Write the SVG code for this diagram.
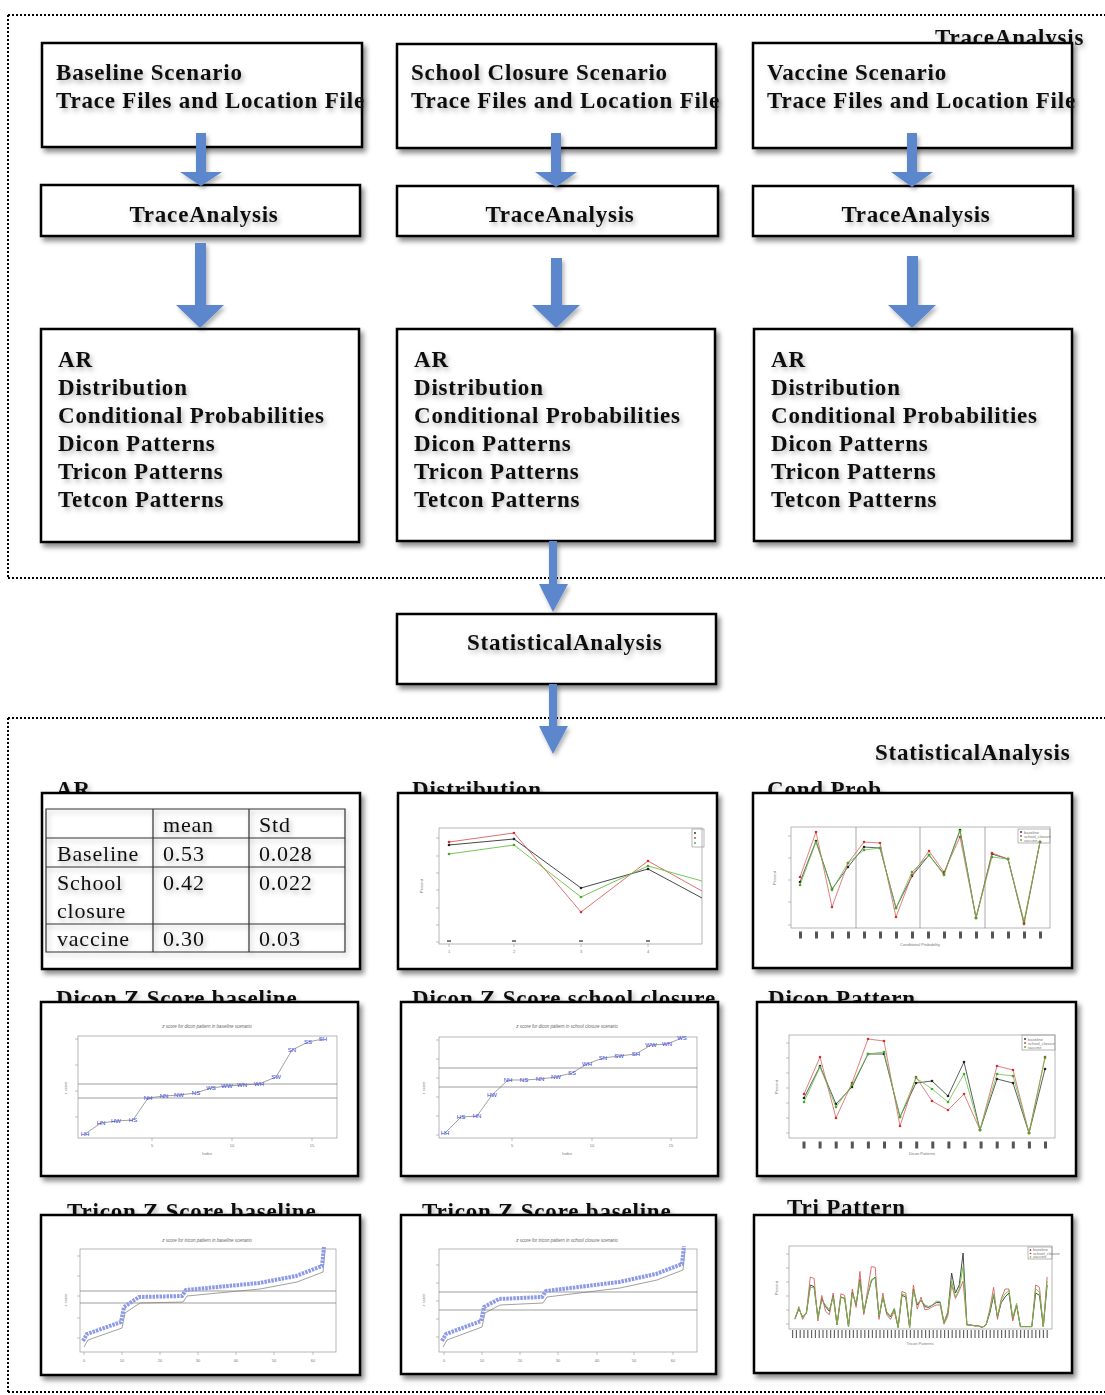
<svg xmlns="http://www.w3.org/2000/svg" width="1105" height="1395" viewBox="0 0 1105 1395">
<defs>
<filter id="sh" x="-10%" y="-10%" width="130%" height="140%"><feDropShadow dx="3" dy="4" stdDeviation="2.5" flood-color="#000" flood-opacity="0.45"/></filter>
<filter id="tsh" x="-10%" y="-30%" width="130%" height="180%"><feDropShadow dx="2" dy="3" stdDeviation="2.5" flood-color="#000" flood-opacity="0.3"/></filter>
<filter id="ash" x="-50%" y="-20%" width="200%" height="150%"><feDropShadow dx="2" dy="3" stdDeviation="2" flood-color="#000" flood-opacity="0.3"/></filter>
<marker id="mk" markerUnits="userSpaceOnUse" markerWidth="4" markerHeight="4" refX="2" refY="2"><circle cx="2" cy="2" r="1.3" fill="#222"/></marker>
<marker id="mr" markerUnits="userSpaceOnUse" markerWidth="4" markerHeight="4" refX="2" refY="2"><circle cx="2" cy="2" r="1.3" fill="#d03030"/></marker>
<marker id="mg" markerUnits="userSpaceOnUse" markerWidth="4" markerHeight="4" refX="2" refY="2"><circle cx="2" cy="2" r="1.3" fill="#44aa22"/></marker>
<style>
.box{fill:#fff;stroke:#000;stroke-width:2.5;filter:url(#sh)}
.t{font-family:"Liberation Serif",serif;font-weight:bold;font-size:23px;letter-spacing:0.8px;fill:#111;filter:url(#tsh)}
.tr{font-family:"Liberation Serif",serif;font-size:22px;letter-spacing:0.8px;fill:#111}
.dot{fill:none;stroke:#000;stroke-width:2;stroke-dasharray:2 2}
.arrow{fill:#5b87cd;filter:url(#ash)}
.frame{fill:none;stroke:#999;stroke-width:0.7}
.grid{stroke:#888;stroke-width:0.7}
.tick{stroke:#999;stroke-width:0.6}
.ax{font-family:"Liberation Sans",sans-serif;font-size:4px;fill:#777}
.ttl{font-family:"Liberation Sans",sans-serif;font-size:4.5px;font-style:italic;fill:#666}
.zl{font-family:"Liberation Sans",sans-serif;font-size:6px;fill:#3344dd;text-anchor:middle}
.lk{fill:none;stroke:#333;stroke-width:0.8;marker-start:url(#mk);marker-mid:url(#mk);marker-end:url(#mk)}
.lr{fill:none;stroke:#d86060;stroke-width:0.8;marker-start:url(#mr);marker-mid:url(#mr);marker-end:url(#mr)}
.lg{fill:none;stroke:#66c044;stroke-width:0.8;marker-start:url(#mg);marker-mid:url(#mg);marker-end:url(#mg)}
.pk{fill:none;stroke:#333;stroke-width:0.9;vector-effect:non-scaling-stroke}
.pr{fill:none;stroke:#d86060;stroke-width:0.9;vector-effect:non-scaling-stroke}
.pg{fill:none;stroke:#66c044;stroke-width:0.9;vector-effect:non-scaling-stroke}
.zline{fill:none;stroke:#777;stroke-width:0.7}
.zband{fill:none;stroke:#8c9ae8;stroke-width:4;stroke-dasharray:2.5 1}
.xl{fill:none;stroke:#555;stroke-width:7}
.tbl{stroke:#333;stroke-width:1.2;fill:none}
</style>
</defs>

<!-- section borders -->
<g id="section-trace">
<path class="dot" d="M8,15 H1105 M8,15 V578 M8,578 H1105"/>
<text class="t" x="935" y="45">TraceAnalysis</text>
</g>
<g id="section-stat">
<path class="dot" d="M8,718 H1105 M8,718 V1392 M8,1392 H1105"/>
<text class="t" x="875" y="760">StatisticalAnalysis</text>
</g>

<!-- top row -->
<g id="baseline-input">
<rect class="box" x="42" y="43" width="320" height="104"/>
<text class="t" x="56" y="80">Baseline Scenario</text>
<text class="t" x="56" y="108">Trace Files and Location File</text>
</g>
<g id="school-input">
<rect class="box" x="397" y="44" width="319" height="104"/>
<text class="t" x="411" y="80">School Closure Scenario</text>
<text class="t" x="411" y="108">Trace Files and Location File</text>
</g>
<g id="vaccine-input">
<rect class="box" x="753" y="43" width="319" height="105"/>
<text class="t" x="767" y="80">Vaccine Scenario</text>
<text class="t" x="767" y="108">Trace Files and Location File</text>
</g>

<g id="trace-1">
<rect class="box" x="41" y="185" width="319" height="51"/>
<text class="t" x="204" y="222" text-anchor="middle">TraceAnalysis</text>
</g>
<g id="trace-2">
<rect class="box" x="397" y="186" width="321" height="50"/>
<text class="t" x="560" y="222" text-anchor="middle">TraceAnalysis</text>
</g>
<g id="trace-3">
<rect class="box" x="753" y="186" width="320" height="50"/>
<text class="t" x="916" y="222" text-anchor="middle">TraceAnalysis</text>
</g>

<g id="results-1">
<rect class="box" x="41" y="329" width="318" height="213"/>
<text class="t" x="58" y="367">AR</text>
<text class="t" x="58" y="395">Distribution</text>
<text class="t" x="58" y="423">Conditional Probabilities</text>
<text class="t" x="58" y="451">Dicon Patterns</text>
<text class="t" x="58" y="479">Tricon Patterns</text>
<text class="t" x="58" y="507">Tetcon Patterns</text>
</g>
<g id="results-2">
<rect class="box" x="397" y="329" width="318" height="212"/>
<text class="t" x="414" y="367">AR</text>
<text class="t" x="414" y="395">Distribution</text>
<text class="t" x="414" y="423">Conditional Probabilities</text>
<text class="t" x="414" y="451">Dicon Patterns</text>
<text class="t" x="414" y="479">Tricon Patterns</text>
<text class="t" x="414" y="507">Tetcon Patterns</text>
</g>
<g id="results-3">
<rect class="box" x="754" y="329" width="318" height="212"/>
<text class="t" x="771" y="367">AR</text>
<text class="t" x="771" y="395">Distribution</text>
<text class="t" x="771" y="423">Conditional Probabilities</text>
<text class="t" x="771" y="451">Dicon Patterns</text>
<text class="t" x="771" y="479">Tricon Patterns</text>
<text class="t" x="771" y="507">Tetcon Patterns</text>
</g>

<g id="statistical-analysis">
<rect class="box" x="397" y="614" width="319" height="70"/>
<text class="t" x="467" y="650">StatisticalAnalysis</text>
</g>

<!-- AR table -->
<g id="ar-table">
<text class="t" x="56" y="797">AR</text>
<rect class="box" x="42" y="793" width="318" height="176"/>
<g filter="url(#tsh)">
<path class="tbl" d="M46,809 H345 V952 H46 Z M153,809 V952 M249,809 V952 M46,838 H345 M46,867 H345 M46,924 H345"/>
<text class="tr" x="163" y="832">mean</text>
<text class="tr" x="259" y="832">Std</text>
<text class="tr" x="57" y="861">Baseline</text>
<text class="tr" x="163" y="861">0.53</text>
<text class="tr" x="259" y="861">0.028</text>
<text class="tr" x="57" y="890">School</text>
<text class="tr" x="57" y="918">closure</text>
<text class="tr" x="163" y="890">0.42</text>
<text class="tr" x="259" y="890">0.022</text>
<text class="tr" x="57" y="946">vaccine</text>
<text class="tr" x="163" y="946">0.30</text>
<text class="tr" x="259" y="946">0.03</text>
</g>
</g>

<!-- Distribution -->
<g id="distribution">
<text class="t" x="412" y="797">Distribution</text>
<rect class="box" x="398" y="793" width="319" height="176"/>
<rect class="frame" x="439" y="828" width="263" height="116"/>
<path class="tick" d="M436,838 H439 M436,856 H439 M436,873 H439 M436,890 H439 M436,908 H439 M436,925 H439 M436,942 H439 M449,944 V947 M514,944 V947 M581,944 V947 M648,944 V947"/>
<text class="ax" x="449" y="953" text-anchor="middle">1</text>
<text class="ax" x="514" y="953" text-anchor="middle">2</text>
<text class="ax" x="581" y="953" text-anchor="middle">3</text>
<text class="ax" x="648" y="953" text-anchor="middle">4</text>
<text class="ax" x="423" y="886" transform="rotate(-90 423 886)" text-anchor="middle">Percent</text>
<polyline class="pk" points="449,845 514,839 581,888 648,869 702,898"/>
<polyline class="pr" points="449,842 514,833 581,912 648,861 702,891"/>
<polyline class="pg" points="449,854 514,845 581,897 648,866 702,881"/>
<g fill="#222"><circle cx="449" cy="845" r="1.3"/><circle cx="514" cy="839" r="1.3"/><circle cx="581" cy="888" r="1.3"/><circle cx="648" cy="869" r="1.3"/></g>
<g fill="#d03030"><circle cx="449" cy="842" r="1.3"/><circle cx="514" cy="833" r="1.3"/><circle cx="581" cy="912" r="1.3"/><circle cx="648" cy="861" r="1.3"/></g>
<g fill="#44aa22"><circle cx="449" cy="854" r="1.3"/><circle cx="514" cy="845" r="1.3"/><circle cx="581" cy="897" r="1.3"/><circle cx="648" cy="866" r="1.3"/></g>
<rect class="frame" x="692" y="829" width="12" height="18" fill="#fff"/>
<circle cx="695" cy="833" r="0.9" fill="#222"/><circle cx="695" cy="838" r="0.9" fill="#d03030"/><circle cx="695" cy="843" r="0.9" fill="#44aa22"/>
<path d="M447,941 h4 M512,941 h4 M579,941 h4 M646,941 h4" stroke="#555" stroke-width="1.5"/>
</g>

<!-- Cond Prob -->
<g id="cond-prob">
<text class="t" x="767" y="797">Cond Prob</text>
<rect class="box" x="753" y="793" width="319" height="175"/>
<rect class="frame" x="791" y="827" width="259" height="101"/>
<path class="grid" d="M856,827 V928 M920,827 V928 M985,827 V928"/>
<path class="tick" d="M788,836 H791 M788,858 H791 M788,880 H791 M788,902 H791 M788,925 H791"/>
<polyline class="lk" points="800,882 816,841 832,889 848,867 864,847 880,848 896,908 912,876 929,855 944,874 960,830 976,918 992,854 1008,859 1024,923 1040,842"/>
<polyline class="lr" points="800,877 816,832 832,907 848,863 864,842 880,843 896,917 912,875 929,851 944,872 960,837 976,918 992,853 1008,859 1024,924 1040,842"/>
<polyline class="lg" points="800,885 816,842 832,890 848,863 864,850 880,848 896,908 912,872 929,855 944,875 960,831 976,918 992,857 1008,859 1024,921 1040,842"/>
<line class="xl" x1="799" y1="935" x2="1044" y2="935" stroke-dasharray="3 13"/>
<text class="ax" x="920" y="946" text-anchor="middle" font-size="3.5">Conditional Probability</text>
<text class="ax" x="776" y="878" transform="rotate(-90 776 878)" text-anchor="middle">Percent</text>
<rect class="frame" x="1018" y="829" width="32" height="14" fill="#fff"/>
<circle cx="1021" cy="832" r="0.9" fill="#222"/><circle cx="1021" cy="836" r="0.9" fill="#d03030"/><circle cx="1021" cy="840" r="0.9" fill="#44aa22"/>
<text class="ax" x="1024" y="833.5" font-size="3">baseline</text>
<text class="ax" x="1024" y="837.5" font-size="3">school_closure</text>
<text class="ax" x="1024" y="841.5" font-size="3">vaccine</text>
</g>

<!-- Dicon Z Score baseline -->
<g id="dicon-z-baseline">
<text class="t" x="56" y="1006">Dicon Z Score baseline</text>
<rect class="box" x="41" y="1002" width="317" height="174"/>
<text class="ttl" x="207" y="1028" text-anchor="middle">z score for dicon pattern in baseline scenario</text>
<rect class="frame" x="78" y="1036" width="259" height="102"/>
<path class="zline" d="M78,1084 H337 M78,1098 H337"/>
<path class="tick" d="M75,1039 H78 M75,1065 H78 M75,1091 H78 M75,1117 H78 M152,1138 V1141 M232,1138 V1141 M312,1138 V1141"/>
<text class="ax" x="152" y="1147" text-anchor="middle">5</text>
<text class="ax" x="232" y="1147" text-anchor="middle">10</text>
<text class="ax" x="312" y="1147" text-anchor="middle">15</text>
<text class="ax" x="207" y="1155" text-anchor="middle">Index</text>
<text class="ax" x="67" y="1088" transform="rotate(-90 67 1088)" text-anchor="middle">z score</text>
<polyline class="zline" points="85,1134 101,1123 116,1121 133,1120 148,1098 164,1096 179,1095 196,1093 211,1088 227,1086 242,1085 259,1084 276,1077 292,1050 308,1042 323,1039"/>
<text class="zl" x="85" y="1136">HH</text><text class="zl" x="101" y="1125">HN</text><text class="zl" x="116" y="1123">HW</text><text class="zl" x="133" y="1122">HS</text>
<text class="zl" x="148" y="1100">NH</text><text class="zl" x="164" y="1098">NN</text><text class="zl" x="179" y="1097">NW</text><text class="zl" x="196" y="1095">NS</text>
<text class="zl" x="211" y="1090">WS</text><text class="zl" x="227" y="1088">WW</text><text class="zl" x="242" y="1087">WN</text><text class="zl" x="259" y="1086">WH</text>
<text class="zl" x="276" y="1079">SW</text><text class="zl" x="292" y="1052">SN</text><text class="zl" x="308" y="1044">SS</text><text class="zl" x="323" y="1041">SH</text>
</g>

<!-- Dicon Z Score school closure -->
<g id="dicon-z-school">
<text class="t" x="412" y="1006">Dicon Z Score school closure</text>
<rect class="box" x="401" y="1002" width="317" height="174"/>
<text class="ttl" x="567" y="1028" text-anchor="middle">z score for dicon pattern in school closure scenario</text>
<rect class="frame" x="439" y="1037" width="258" height="101"/>
<path class="zline" d="M439,1068 H697 M439,1087 H697"/>
<path class="tick" d="M436,1040 H439 M436,1059 H439 M436,1078 H439 M436,1097 H439 M436,1116 H439 M436,1135 H439 M512,1138 V1141 M592,1138 V1141 M671,1138 V1141"/>
<text class="ax" x="512" y="1147" text-anchor="middle">5</text>
<text class="ax" x="592" y="1147" text-anchor="middle">10</text>
<text class="ax" x="671" y="1147" text-anchor="middle">15</text>
<text class="ax" x="567" y="1155" text-anchor="middle">Index</text>
<text class="ax" x="425" y="1088" transform="rotate(-90 425 1088)" text-anchor="middle">z score</text>
<polyline class="zline" points="445,1133 461,1117 477,1116 492,1095 508,1080 524,1080 540,1079 556,1077 572,1073 587,1064 603,1058 619,1056 636,1054 651,1045 667,1044 682,1038"/>
<text class="zl" x="445" y="1135">HH</text><text class="zl" x="461" y="1119">HS</text><text class="zl" x="477" y="1118">HN</text><text class="zl" x="492" y="1097">HW</text>
<text class="zl" x="508" y="1082">NH</text><text class="zl" x="524" y="1082">NS</text><text class="zl" x="540" y="1081">NN</text><text class="zl" x="556" y="1079">NW</text>
<text class="zl" x="572" y="1075">SS</text><text class="zl" x="587" y="1066">WH</text><text class="zl" x="603" y="1060">SN</text><text class="zl" x="619" y="1058">SW</text>
<text class="zl" x="636" y="1056">SH</text><text class="zl" x="651" y="1047">WW</text><text class="zl" x="667" y="1046">WN</text><text class="zl" x="682" y="1040">WS</text>
</g>

<!-- Dicon Pattern -->
<g id="dicon-pattern">
<text class="t" x="768" y="1006">Dicon Pattern</text>
<rect class="box" x="757" y="1002" width="319" height="174"/>
<rect class="frame" x="789" y="1035" width="266" height="103"/>
<path class="tick" d="M786,1043 H789 M786,1058 H789 M786,1073 H789 M786,1088 H789 M786,1103 H789 M786,1118 H789 M786,1133 H789"/>
<polyline class="lk" points="804,1098 820,1066 836,1104 852,1087 868,1054 884,1054 900,1117 916,1083 932,1081 948,1096 964,1062 980,1130 997,1079 1013,1083 1029,1133 1045,1069"/>
<polyline class="lr" points="804,1094 820,1057 836,1118 852,1083 868,1039 884,1041 900,1126 916,1077 932,1101 948,1110 964,1094 980,1130 997,1066 1013,1070 1029,1133 1045,1057"/>
<polyline class="lg" points="804,1102 820,1067 836,1107 852,1085 868,1054 884,1052 900,1117 916,1078 932,1089 948,1102 964,1074 980,1130 997,1074 1013,1076 1029,1133 1045,1058"/>
<line class="xl" x1="802.5" y1="1145" x2="1048" y2="1145" stroke-dasharray="3 13.1"/>
<text class="ax" x="922" y="1155" text-anchor="middle" font-size="3.5">Dicon Patterns</text>
<text class="ax" x="778" y="1087" transform="rotate(-90 778 1087)" text-anchor="middle">Percent</text>
<rect class="frame" x="1022" y="1035" width="33" height="15" fill="#fff"/>
<circle cx="1025" cy="1039" r="0.9" fill="#222"/><circle cx="1025" cy="1043" r="0.9" fill="#d03030"/><circle cx="1025" cy="1047" r="0.9" fill="#44aa22"/>
<text class="ax" x="1028" y="1040.5" font-size="3">baseline</text>
<text class="ax" x="1028" y="1044.5" font-size="3">school_closure</text>
<text class="ax" x="1028" y="1048.5" font-size="3">vaccine</text>
</g>

<!-- Tricon Z Score baseline (left) -->
<g id="tricon-z-1">
<text class="t" x="67" y="1219">Tricon Z Score baseline</text>
<rect class="box" x="41" y="1215" width="319" height="160"/>
<text class="ttl" x="207" y="1242" text-anchor="middle">z score for tricon pattern in baseline scenario</text>
<rect class="frame" x="80" y="1249" width="256" height="103"/>
<path class="zline" d="M80,1291 H336 M80,1303 H336"/>
<path class="tick" d="M77,1256 H80 M77,1276 H80 M77,1296 H80 M77,1318 H80 M77,1338 H80 M84,1352 V1355 M122,1352 V1355 M160,1352 V1355 M198,1352 V1355 M236,1352 V1355 M274,1352 V1355 M313,1352 V1355"/>
<text class="ax" x="84" y="1362" text-anchor="middle">0</text><text class="ax" x="122" y="1362" text-anchor="middle">10</text><text class="ax" x="160" y="1362" text-anchor="middle">20</text><text class="ax" x="198" y="1362" text-anchor="middle">30</text><text class="ax" x="236" y="1362" text-anchor="middle">40</text><text class="ax" x="274" y="1362" text-anchor="middle">50</text><text class="ax" x="313" y="1362" text-anchor="middle">60</text>
<text class="ax" x="67" y="1300" transform="rotate(-90 67 1300)" text-anchor="middle">z score</text>
<polyline class="zline" points="84,1347 88,1340 122,1328 125,1313 140,1303 183,1302 187,1296 260,1289 297,1282 323,1272 325,1250"/>
<polyline class="zband" points="83,1341 87,1334 121,1322 124,1307 139,1297 182,1296 186,1290 259,1283 296,1276 322,1266 324,1247"/>
</g>

<!-- Tricon Z Score (middle) -->
<g id="tricon-z-2">
<text class="t" x="422" y="1219">Tricon Z Score baseline</text>
<rect class="box" x="401" y="1215" width="315" height="159"/>
<text class="ttl" x="567" y="1242" text-anchor="middle">z score for tricon pattern in school closure scenario</text>
<rect class="frame" x="439" y="1249" width="258" height="103"/>
<path class="zline" d="M439,1292 H697 M439,1310 H697"/>
<path class="tick" d="M436,1265 H439 M436,1283 H439 M436,1301 H439 M436,1319 H439 M436,1337 H439 M444,1352 V1355 M482,1352 V1355 M520,1352 V1355 M558,1352 V1355 M597,1352 V1355 M634,1352 V1355 M673,1352 V1355"/>
<text class="ax" x="444" y="1362" text-anchor="middle">0</text><text class="ax" x="482" y="1362" text-anchor="middle">10</text><text class="ax" x="520" y="1362" text-anchor="middle">20</text><text class="ax" x="558" y="1362" text-anchor="middle">30</text><text class="ax" x="597" y="1362" text-anchor="middle">40</text><text class="ax" x="634" y="1362" text-anchor="middle">50</text><text class="ax" x="673" y="1362" text-anchor="middle">60</text>
<text class="ax" x="425" y="1300" transform="rotate(-90 425 1300)" text-anchor="middle">z score</text>
<polyline class="zline" points="443,1347 447,1340 482,1327 485,1313 500,1305 543,1303 547,1297 620,1288 657,1280 683,1270 685,1250"/>
<polyline class="zband" points="442,1341 446,1334 481,1321 484,1307 499,1299 542,1297 546,1291 619,1282 656,1274 682,1264 684,1246"/>
</g>

<!-- Tri Pattern -->
<g id="tri-pattern">
<text class="t" x="787" y="1215">Tri Pattern</text>
<rect class="box" x="754" y="1215" width="318" height="158"/>
<rect class="frame" x="789" y="1246" width="263" height="83"/>
<path class="tick" d="M786,1254 H789 M786,1268 H789 M786,1282 H789 M786,1296 H789 M786,1310 H789 M786,1324 H789"/>
<g transform="translate(795,1329) scale(3.82,-0.8)">
<polyline class="pk" points="0,13 1,25 2,15 3,20 4,55 5,53 6,14 7,38 8,28 9,22 10,42 11,5 12,40 13,38 14,3 15,46 16,30 17,62 18,20 19,42 20,60 21,65 22,15 23,40 24,20 25,15 26,25 27,2 28,42 29,40 30,2 31,50 32,30 33,36 34,28 35,27 36,30 37,33 38,33 39,8 40,20 41,70 42,45 43,55 44,95 45,5 46,5 47,4 48,4 49,2 50,5 51,20 52,42 53,15 54,33 55,40 56,45 57,12 58,30 59,3 60,3 61,3 62,3 63,45 64,42 65,3 66,55"/>
<polyline class="pr" points="0,12 1,28 2,12 3,21 4,65 5,63 6,10 7,42 8,22 9,18 10,45 11,5 12,44 13,42 14,3 15,50 16,27 17,72 18,18 19,48 20,78 21,77 22,12 23,45 24,18 25,12 26,22 27,2 28,47 29,45 30,2 31,55 32,25 33,40 34,24 35,25 36,28 37,30 38,30 39,6 40,16 41,55 42,38 43,48 44,60 45,5 46,5 47,4 48,4 49,2 50,5 51,25 52,52 53,12 54,38 55,50 56,50 57,10 58,30 59,3 60,3 61,3 62,3 63,55 64,52 65,3 66,65"/>
<polyline class="pg" points="0,14 1,26 2,14 3,21 4,52 5,52 6,14 7,36 8,30 9,24 10,40 11,5 12,40 13,39 14,3 15,44 16,32 17,60 18,22 19,42 20,62 21,64 22,16 23,40 24,22 25,16 26,26 27,2 28,44 29,42 30,2 31,48 32,32 33,36 34,30 35,28 36,30 37,35 38,34 39,8 40,22 41,60 42,40 43,50 44,78 45,5 46,5 47,4 48,4 49,2 50,5 51,22 52,44 53,16 54,36 55,44 56,48 57,14 58,32 59,3 60,3 61,3 62,3 63,50 64,46 65,3 66,60"/>
</g>
<line x1="792" y1="1334" x2="1050" y2="1334" stroke="#666" stroke-width="8" stroke-dasharray="1.2 2.6"/>
<text class="ax" x="920" y="1345" text-anchor="middle" font-size="3.5">Tricon Patterns</text>
<text class="ax" x="778" y="1288" transform="rotate(-90 778 1288)" text-anchor="middle">Percent</text>
<rect class="frame" x="1028" y="1247" width="24" height="12" fill="#fff"/>
<circle cx="1030.5" cy="1250" r="0.8" fill="#222"/><circle cx="1030.5" cy="1253.5" r="0.8" fill="#d03030"/><circle cx="1030.5" cy="1257" r="0.8" fill="#44aa22"/>
<text class="ax" x="1033" y="1251" font-size="2.6">baseline</text>
<text class="ax" x="1033" y="1254.5" font-size="2.6">school_closure</text>
<text class="ax" x="1033" y="1258" font-size="2.6">vaccine</text>
</g>

<!-- connectors (drawn on top of boxes) -->
<g id="connectors">
<path class="arrow" d="M196,133 H206 V172 H222 L201,186 L180,172 H196 Z"/>
<path class="arrow" d="M551,133 H561 V172 H577 L556,187 L535,172 H551 Z"/>
<path class="arrow" d="M907,133 H917 V172 H933 L912,187 L891,172 H907 Z"/>
<path class="arrow" d="M195,243 H206 V305 H224 L200,328 L176,305 H195 Z"/>
<path class="arrow" d="M551,258 H562 V305 H580 L556,328 L532,305 H551 Z"/>
<path class="arrow" d="M907,256 H918 V305 H936 L912,328 L888,305 H907 Z"/>
<path class="arrow" d="M549,541 H557 V584 H568 L553,612 L539,584 H549 Z"/>
<path class="arrow" d="M549,684 H557 V726 H568 L553,754 L539,726 H549 Z"/>
</g>
</svg>
